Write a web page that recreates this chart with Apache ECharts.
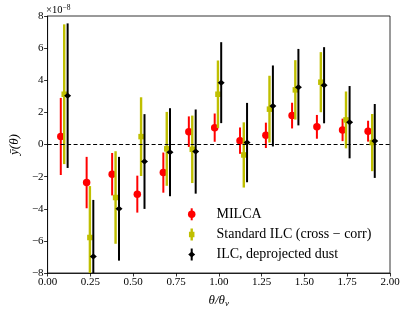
<!DOCTYPE html>
<html><head><meta charset="utf-8">
<script src="https://cdn.jsdelivr.net/npm/echarts@6/dist/echarts.min.js"></script>
<style>html,body{margin:0;padding:0;background:#fff}#c{width:407px;height:315px}</style>
</head><body><div id="c"></div>
<script>
// ---- data (y in units of 1e-8) ----
const xTicks = [0, 0.25, 0.5, 0.75, 1.0, 1.25, 1.5, 1.75, 2.0];
const yTicks = [-8, -6, -4, -2, 0, 2, 4, 6, 8];

const milcaX   = [0.077,0.228,0.377,0.524,0.676,0.825,0.976,1.124,1.275,1.428,1.573,1.723,1.872];
const milcaY   = [0.5,-2.37,-1.85,-3.09,-1.75,0.8,1.05,0.24,0.57,1.8,1.1,0.91,0.83];
const milcaErr = [2.4,1.6,1.32,1.15,1.25,0.95,0.88,0.82,0.79,0.8,0.74,0.7,0.65];

const stdX   = [0.097,0.247,0.397,0.546,0.696,0.845,0.995,1.146,1.296,1.447,1.596,1.743,1.896];
const stdY   = [3.13,-5.79,-3.3,0.49,-0.27,-0.3,3.13,-0.65,2.2,3.4,3.88,1.53,0.12];
const stdErr = [4.35,3.2,2.88,2.45,2.3,2.1,2.1,2.03,2.08,1.85,1.87,1.77,1.78];

const dustX   = [0.117,0.267,0.417,0.566,0.715,0.865,1.014,1.165,1.316,1.465,1.615,1.764,1.911];
const dustY   = [3.04,-6.97,-4.0,-1.06,-0.48,-0.44,3.85,0.12,2.4,3.57,3.69,1.39,0.22];
const dustErr = [4.5,3.52,3.23,2.95,2.74,2.62,2.52,2.47,2.52,2.38,2.37,2.25,2.3];

const names = ['MILCA', 'Standard ILC (cross \u2212 corr)', 'ILC, deprojected dust'];
const colors = ['#ff0000', '#bfbf00', '#000000'];

const Y_MIN = yTicks[0], Y_MAX = yTicks[yTicks.length - 1];
const serif = "'Liberation Serif', 'DejaVu Serif', serif";

function zip(xs, ys, es) { return xs.map((x, i) => [x, ys[i], es[i]]); }

function errRender(color, width) {
  return function (params, api) {
    const x = api.value(0), y = api.value(1), e = api.value(2);
    const hi = Math.min(y + e, Y_MAX), lo = Math.max(y - e, Y_MIN);
    const p1 = api.coord([x, hi]), p2 = api.coord([x, lo]);
    return { type: 'line', shape: { x1: p1[0], y1: p1[1], x2: p2[0], y2: p2[1] },
      style: { stroke: color, lineWidth: width } };
  };
}

const groups = [
  { x: milcaX, y: milcaY, e: milcaErr, color: colors[0], lw: 2, symbol: 'circle', size: 7.5 },
  { x: stdX, y: stdY, e: stdErr, color: colors[1], lw: 2.4, symbol: 'rect', size: 5.5 },
  { x: dustX, y: dustY, e: dustErr, color: colors[2], lw: 2, symbol: 'diamond', size: [7, 6] }
];

const series = [];
// zero dashed line
series.push({
  type: 'line', data: [], silent: true, z: 1,
  markLine: { silent: true, symbol: 'none', label: { show: false },
    lineStyle: { color: '#000', type: [4, 2.5], width: 1.1 },
    data: [{ yAxis: 0 }] }
});
groups.forEach((g, i) => {
  const d = zip(g.x, g.y, g.e);
  series.push({ type: 'custom', name: names[i], data: d, renderItem: errRender(g.color, g.lw),
    z: 2 + i * 2, silent: true, encode: { x: 0, y: 1 } });
  series.push({ type: 'scatter', name: names[i] + ' pts', data: d.map(p => [p[0], p[1]]),
    symbol: g.symbol, symbolSize: g.size, itemStyle: { color: g.color, opacity: 1 },
    z: 3 + i * 2, silent: true });
});

// legend drawn as graphic elements
const legX = 191.7, legTextX = 216.5, legY = [214.3, 234.5, 254.5];
const legend = [];
groups.forEach((g, i) => {
  const cy = legY[i];
  legend.push({ type: 'line', shape: { x1: legX, y1: cy - 6, x2: legX, y2: cy + 6 },
    style: { stroke: g.color, lineWidth: g.lw }, z: 100 });
  let shape;
  if (g.symbol === 'circle') shape = { type: 'circle', shape: { cx: legX, cy: cy, r: 3.75 }, style: { fill: g.color }, z: 101 };
  else if (g.symbol === 'rect') shape = { type: 'rect', shape: { x: legX - 2.75, y: cy - 2.75, width: 5.5, height: 5.5 }, style: { fill: g.color }, z: 101 };
  else shape = { type: 'polygon', shape: { points: [[legX, cy - 3], [legX + 3.5, cy], [legX, cy + 3], [legX - 3.5, cy]] }, style: { fill: g.color }, z: 101 };
  legend.push(shape);
  legend.push({ type: 'text', x: legTextX, y: cy, z: 101,
    style: { text: names[i], font: "14px " + serif, fill: '#000', textVerticalAlign: 'middle', verticalAlign: 'middle' } });
});

const chart = echarts.init(document.getElementById('c'), null, { renderer: 'canvas' });
chart.setOption({
  animation: false,
  backgroundColor: '#fff',
  grid: { left: 45, right: 17, top: 16, bottom: 42, show: true, borderColor: '#000', borderWidth: 0.8, containLabel: false },
  xAxis: {
    type: 'value', min: xTicks[0], max: xTicks[xTicks.length - 1], interval: 0.25,
    axisLine: { show: true, onZero: false, lineStyle: { color: '#000', width: 0.8 } },
    axisTick: { show: true, inside: false, length: 3.5, lineStyle: { color: '#000', width: 0.8 } },
    splitLine: { show: false },
    axisLabel: { color: '#000', fontFamily: serif, fontSize: 11, margin: 4,
      formatter: v => v.toFixed(2) },
    name: '\u03b8/\u03b8{s|v}', nameLocation: 'middle', nameGap: 20,
    nameTextStyle: { color: '#000', fontFamily: serif, fontSize: 13, fontStyle: 'italic',
      rich: { s: { fontFamily: serif, fontSize: 9, fontStyle: 'italic', verticalAlign: 'bottom', padding: [6, 0, 0, 0] } } }
  },
  yAxis: {
    type: 'value', min: Y_MIN, max: Y_MAX, interval: 2,
    axisLine: { show: true, onZero: false, lineStyle: { color: '#000', width: 0.8 } },
    axisTick: { show: true, inside: false, length: 3.5, lineStyle: { color: '#000', width: 0.8 } },
    splitLine: { show: false },
    axisLabel: { color: '#000', fontFamily: serif, fontSize: 11, margin: 4,
      formatter: v => (v < 0 ? '\u2212' + Math.abs(v) : String(v)) },
    name: '\u0233(\u03b8)', nameLocation: 'middle', nameGap: 25, nameRotate: 90,
    nameTextStyle: { color: '#000', fontFamily: serif, fontSize: 13, fontStyle: 'italic' }
  },
  graphic: [
    { type: 'text', left: 46, top: 4, z: 100,
      style: { text: '\u00d710{p|\u22128}', font: '10.5px ' + serif, fill: '#000',
        rich: { p: { fontFamily: serif, fontSize: 7.5, verticalAlign: 'top', padding: [0, 0, 5, 0] } } } }
  ].concat(legend),
  series: series
});
</script></body></html>
